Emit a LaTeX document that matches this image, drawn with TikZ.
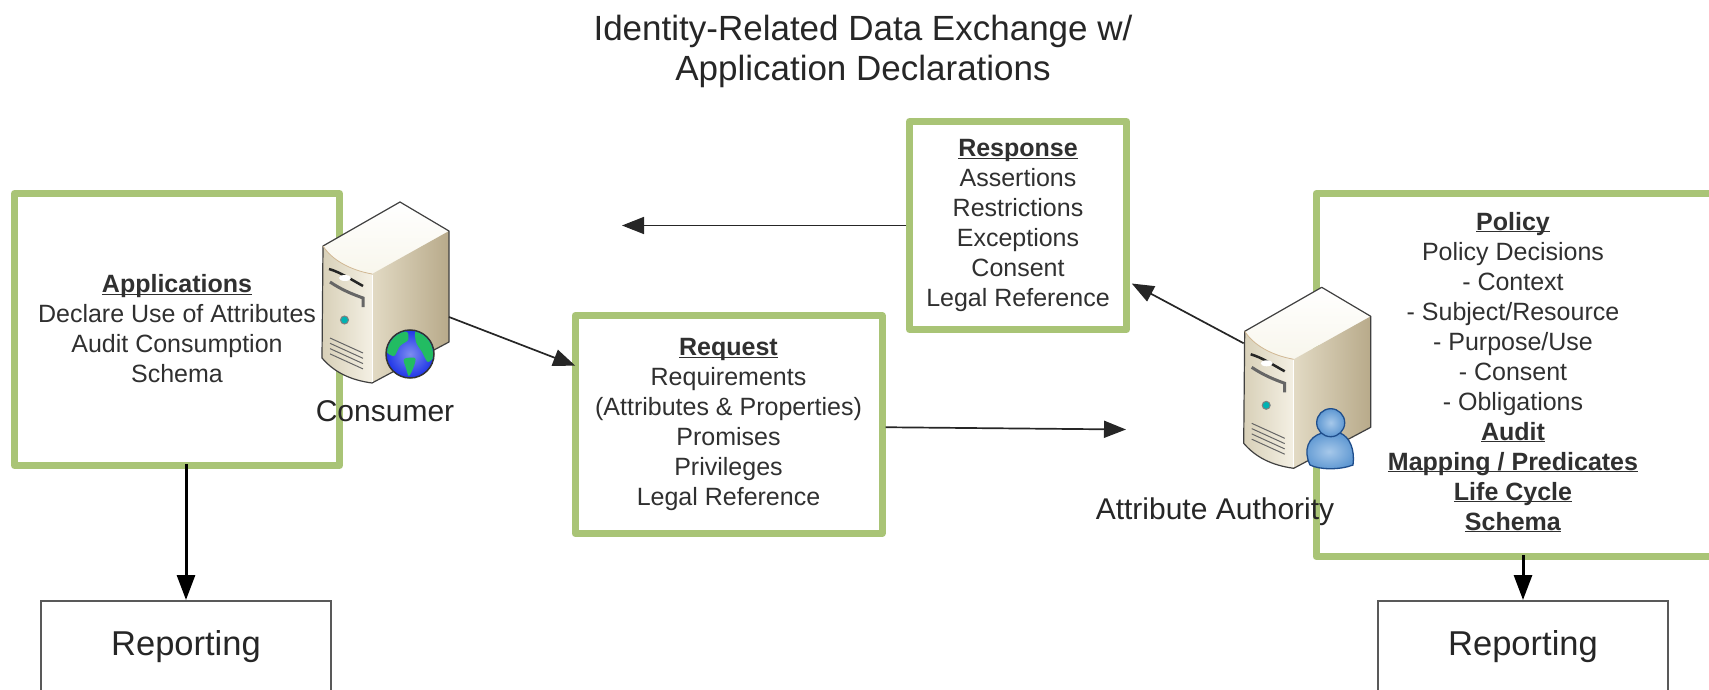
\documentclass[tikz,border=0pt]{standalone}
\usepackage{fontspec}
\setmainfont{Liberation Sans}
\usepackage{xcolor}
\usepackage{tikz}
\usetikzlibrary{
	arrows.meta,    % Triangle
	calc
}
\definecolor{boxgreen}{HTML}{A9C476}
\definecolor{inktext}{HTML}{303030}
\definecolor{servertop}{HTML}{F8F6EC}
\definecolor{serverfrontl}{HTML}{D8D0B8}
\definecolor{serverfrontr}{HTML}{F4F0E4}
\definecolor{serversidel}{HTML}{E2DAC4}
\definecolor{serversidem}{HTML}{E9E2D0}
\definecolor{serversider}{HTML}{B8AA8A}
\definecolor{globeblue}{HTML}{1F35E8}
\definecolor{globelight}{HTML}{7C8CF0}
\definecolor{globegreen}{HTML}{22BC62}
\definecolor{userlight}{HTML}{A6C8EA}
\definecolor{userblue}{HTML}{5F98D2}
\definecolor{useredge}{HTML}{1F4E8C}
\newcommand{\headline}[1]{\vphantom{Ap}\underline{\smash{\textbf{#1}}}}
\tikzset{
	greenbox/.style={draw=boxgreen, line width=7pt, line join=round, fill=white, align=center,
		text=inktext, inner sep=0pt, font=\fontsize{25}{30}\selectfont},
	boxtext/.style={align=center, text=inktext, inner sep=0pt, font=\fontsize{25}{30}\selectfont},
	reportbox/.style={draw=black!65, line width=2pt, fill=white, text=black!85, inner sep=0pt,
		font=\fontsize{34.5}{40}\selectfont},
	titletext/.style={align=center, text=black!85, inner sep=0pt, font=\fontsize{35}{40}\selectfont},
	serverlabel/.style={text=black!85, inner sep=0pt, font=\fontsize{30}{36}\selectfont},
	flow/.style={->, line width=1.7pt, black!85},
	report/.style={-{Triangle[length=25pt,width=18pt]}, line width=3pt, black},
	serverbox/.pic={
		% Facce
		\path[top color=white, bottom color=servertop]
			(0,0) -- (49,29) -- (-28,72) .. controls (-50,68) and (-68,58) .. (-77,44) -- cycle;
		\path[left color=serverfrontl, right color=serverfrontr]
			(-77,44) .. controls (-68,58) and (-50,68) .. (-28,72) -- (-28,181)
			.. controls (-50,178) and (-66,170) .. (-78,156) -- cycle;
		\path[left color=serversidel, middle color=serversidem, right color=serversider]
			(-28,72) -- (49,29) -- (49,140) -- (-28,181) -- cycle;
		\draw[black!75, line width=1.2pt, line join=round]
			(0,0) -- (49,29) -- (49,140) -- (-28,181)
			.. controls (-50,178) and (-66,170) .. (-78,156) -- (-77,44) -- cycle;
		\draw[white, line width=1pt] (-28,73) -- (-28,180);
		\draw[serverfrontl!70!brown, line width=.8pt] (-77,44) .. controls (-68,58) and (-50,68) .. (-28,72);
		% Fessure
		\draw[line width=2.5pt, black!85] (-71,67) .. controls (-60,70) and (-48,78) .. (-37,84);
		\fill[white] (-55,76) ellipse (6 and 3);
		\draw[line width=3pt, black!60] (-70,80) .. controls (-58,88) and (-48,92) .. (-37,96) -- (-37,105);
		\fill[draw=black!50, fill=teal!60!cyan, line width=1pt] (-55.5,118) circle (4);
		\foreach \vent in {0,...,3}
			\draw[line width=1pt, black!60] (-70,136+5.3*\vent) -- (-37,151+5.3*\vent);
		\coordinate (-east) at (49,115);
		\coordinate (-west) at (-78,56);
	}
}

\begin{document}
\begin{tikzpicture}[>={Triangle[length=22pt,width=17pt]}, x=1pt, y=-1pt]
	\useasboundingbox (0,0) rectangle (1709,690);
	
	% --- Titolo ---
	\node[titletext] (title) at (863,51) {Identity-Related Data Exchange w/\\Application Declarations};
	
	% --- Riquadri ---
	\node[greenbox, minimum width=325pt, minimum height=272pt] (apps) at (177,329.5)
		{\headline{Applications}\\Declare Use of Attributes\\Audit Consumption\\Schema};
	\node[greenbox, minimum width=307pt, minimum height=218pt] (request) at (728.5,424.5)
		{\headline{Request}\\Requirements\\(Attributes \& Properties)\\Promises\\Privileges\\Legal Reference};
	\node[greenbox, minimum width=217pt, minimum height=208pt] (response) at (1018,225.5)
		{\headline{Response}\\Assertions\\Restrictions\\Exceptions\\Consent\\Legal Reference};
	\node[greenbox, minimum width=410pt, minimum height=363pt] (policybox) at (1521,375) {};
	\node[boxtext] (policy) at (1513,374)
		{\headline{Policy}\\Policy Decisions\\- Context\\- Subject/Resource\\- Purpose/Use\\- Consent\\- Obligations\\
		\headline{Audit}\\\headline{Mapping / Predicates}\\\headline{Life Cycle}\\\headline{Schema}};
	
	\node[reportbox, minimum width=290pt, minimum height=92pt] (reportleft) at (186,647) {Reporting};
	\node[reportbox, minimum width=290pt, minimum height=92pt] (reportright) at (1523,647) {Reporting};
	
	% --- Server ---
	\pic (consumer) at (400,202) {serverbox};
	\pic (authority) at (1321.7,287.3) {serverbox};
	
	% Globo
	\begin{scope}[shift={(410,354)}]
		\fill[draw=black!80, line width=1.5pt, inner color=globelight, outer color=globeblue] (0,0) circle (24);
		\clip (0,0) circle (23);
		\fill[globegreen] plot[smooth cycle] coordinates {(-24,-4) (-14,-20) (-3,-22) (-2,-14) (-10,-8) (-16,2)};
		\fill[globegreen] plot[smooth cycle] coordinates {(6,-24) (20,-16) (25,0) (18,8) (12,-2) (6,-12)};
		\fill[globegreen] plot[smooth cycle] coordinates {(-6,5) (5,4) (4,12) (-1,22) (-4,14)};
	\end{scope}
	
	% Utente
	\path[draw=useredge, line width=1.3pt, inner color=userlight, outer color=userblue]
		(1310,465) .. controls (1303,450) and (1308,437) .. (1322,433) -- (1340,433)
		.. controls (1350,437) and (1355,450) .. (1353,465) .. controls (1340,470) and (1320,470) .. (1310,465) -- cycle;
	\path[draw=useredge, line width=1.3pt, inner color=userlight, outer color=userblue]
		(1330.7,422.7) circle (14);
	
	% --- Etichette ---
	\node[serverlabel] (consumerlabel) at (385,411) {Consumer};
	\node[serverlabel] (authoritylabel) at (1215,512) {Attribute Authority};
	
	% --- Frecce ---
	\coordinate (responseend) at (622,225.5);
	\coordinate (requestend) at (1126,429.5);
	\draw[flow] (response.west) -- (responseend);
	\draw[flow, shorten >=2pt] (authority-west) -- (response.-27);
	\draw[flow, shorten >=-4pt] (consumer-east) -- (request.159);
	\draw[flow] (request.-1) -- (requestend);
	\draw[report] ([yshift=5pt]reportleft.north |- apps.south) -- (reportleft.north);
	\draw[report] ([yshift=5pt]reportright.north |- policybox.south) -- (reportright.north);
\end{tikzpicture}
\end{document}
